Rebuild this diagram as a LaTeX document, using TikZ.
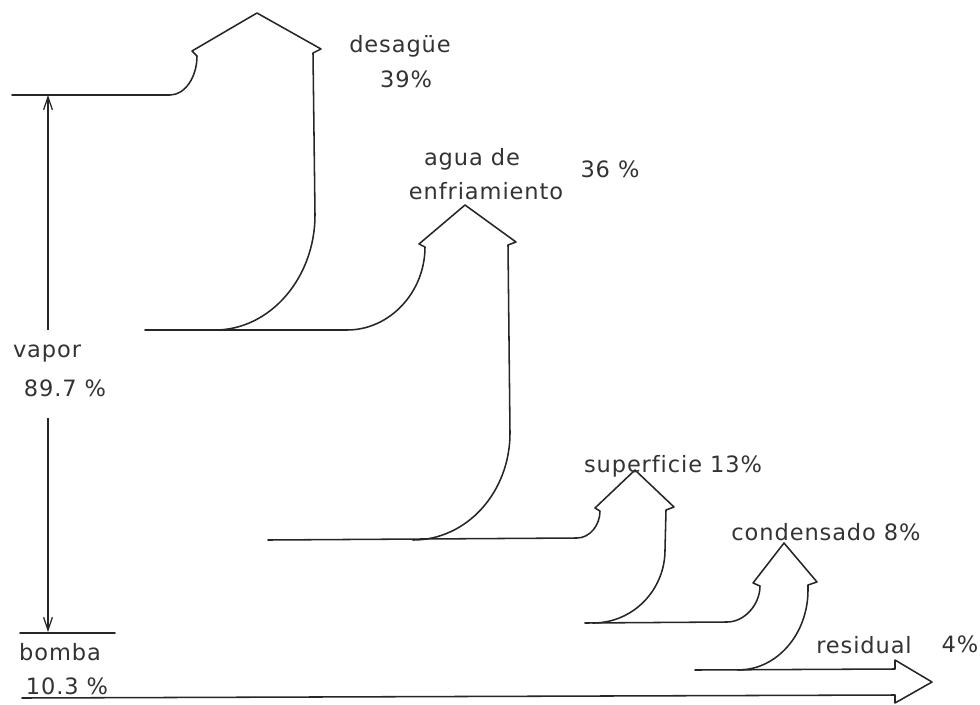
\documentclass[tikz,border=0pt]{standalone}
\usepackage{fontspec}
\setmainfont[LetterSpace=4, Ligatures=CommonOff]{DejaVu Sans}
\usetikzlibrary{arrows.meta}
\tikzset{
  flow/.style={line width=1.1pt, line join=round, line cap=round, black!85},
  gauge/.style={line width=0.9pt, black!85, -{Straight Barb[length=3.2mm,width=2.2mm]}},
  lbl/.style={font=\fontsize{16}{19}\selectfont, text=black!80, inner sep=0pt, anchor=base},
}

\begin{document}
\begin{tikzpicture}[x=0.025cm, y=-0.025cm]
  \useasboundingbox (0,0) rectangle (980,704);

  % branches of the energy balance (pixel grid, y grows downwards)
  \draw[flow] (12,95) -- (170,95) .. controls (185,95) and (197,77) .. (197,56)
    -- (192,51) -- (257,13) -- (321,49) -- (313,53) -- (315,215)
    .. controls (315,278) and (270,330) .. (215,330);
  \draw[flow] (145,330) -- (347,330) .. controls (390,330) and (425,292) .. (425,247)
    -- (419,244) -- (465,205) -- (516,242) -- (508,245) -- (510,433)
    .. controls (510,492) and (467,540) .. (413,540);
  \draw[flow] (268,540) -- (577,538) .. controls (590,538) and (600,525) .. (600,511)
    -- (595,508) -- (635,470) -- (674,507) -- (666,510) -- (665,550)
    .. controls (665,590) and (633,623) .. (593,623);
  \draw[flow] (585,623) -- (727,622) .. controls (745,622) and (760,604) .. (760,586)
    -- (753,583) -- (784,543) -- (817,582) -- (808,585) -- (808,590)
    .. controls (808,634) and (777,670) .. (738,670);
  \draw[flow] (695,670) -- (895,669) -- (895,660) -- (932,682) -- (895,703)
    -- (895,695) -- (22,698);

  % feed split: vapor / bomba
  \coordinate (vtop) at (48,95);
  \coordinate (vlow) at (48,632);
  \draw[gauge] (48,330) -- (vtop);
  \draw[gauge] (48,418) -- (vlow);
  \draw[flow] (20,633) -- (115,633);

  \node[lbl] (desague) at (400,52) {desagüe};
  \node[lbl] (p39) at (406,87) {39\%};
  \node[lbl] (agua) at (472,165) {agua de};
  \node[lbl] (enfr) at (486,199) {enfriamiento};
  \node[lbl] (p36) at (610,177) {36 \%};
  \node[lbl] (vapor) at (47,357) {vapor};
  \node[lbl] (p897) at (65,396) {89.7 \%};
  \node[lbl] (sup) at (673,472) {superficie 13\%};
  \node[lbl] (cond) at (826,540) {condensado 8\%};
  \node[lbl] (resid) at (864,653) {residual};
  \node[lbl] (p4) at (960,652) {4\%};
  \node[lbl] (bomba) at (60,660) {bomba};
  \node[lbl] (p103) at (67,694) {10.3 \%};
\end{tikzpicture}
\end{document}
